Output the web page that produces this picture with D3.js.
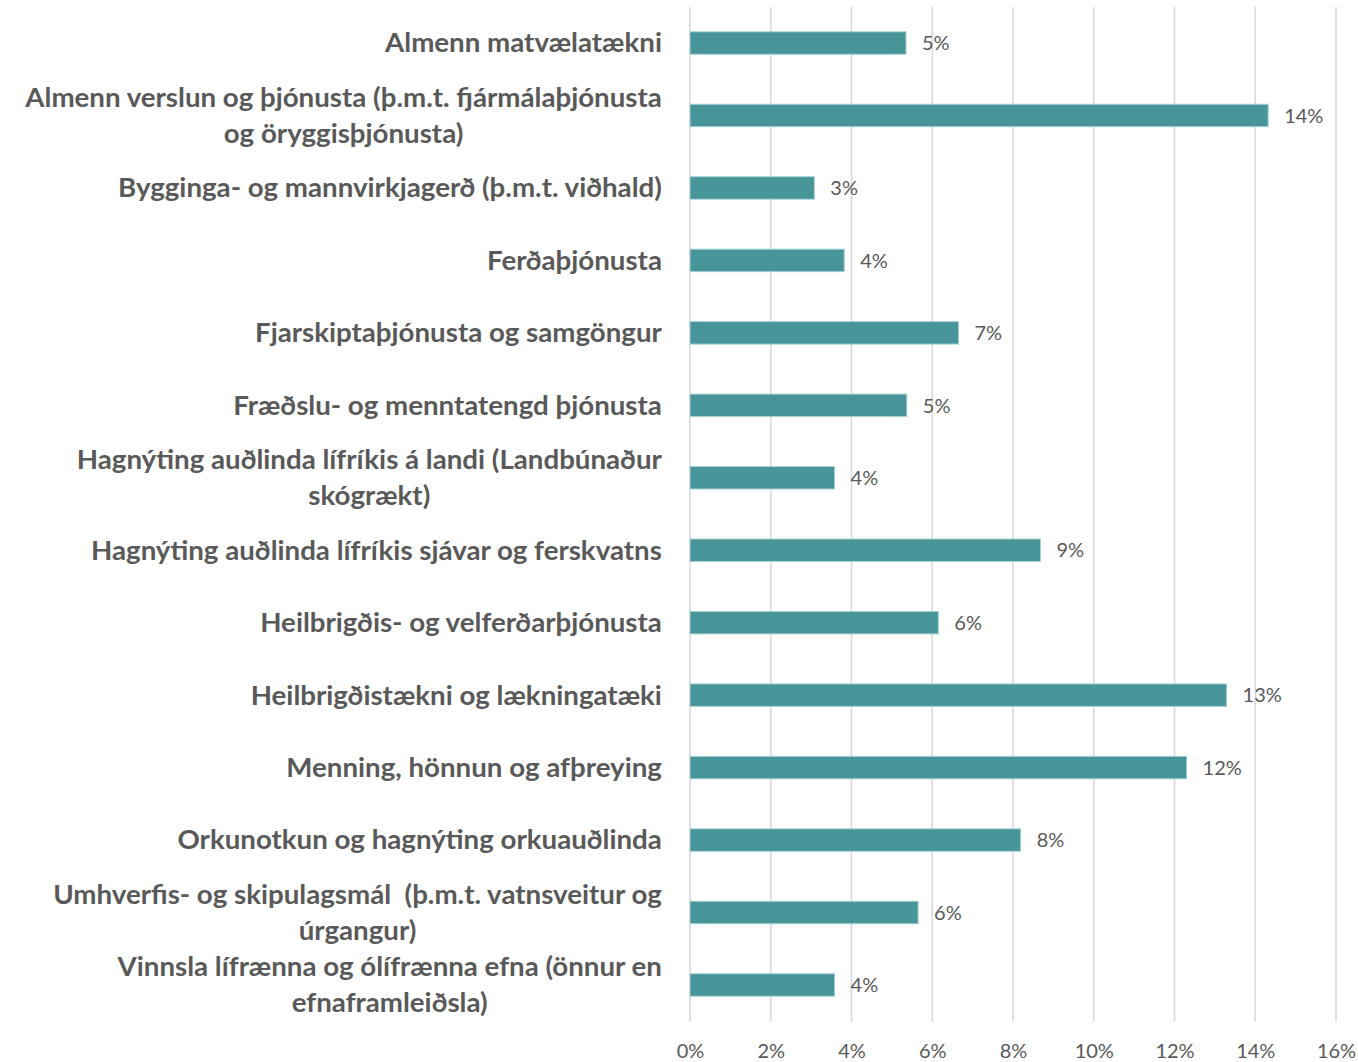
<!DOCTYPE html>
<html>
<head>
<meta charset="utf-8">
<script src="https://cdn.jsdelivr.net/npm/d3@7"></script>
<style>
  html, body { margin: 0; padding: 0; background: #fff; }
  svg { display: block; }
</style>
</head>
<body>
<svg id="chart" width="1358" height="1062"></svg>
<script>
const categories = [
  "Almenn matvælatækni",
  "Almenn verslun og þjónusta (þ.m.t. fjármálaþjónusta\nog öryggisþjónusta)",
  "Bygginga- og mannvirkjagerð (þ.m.t. viðhald)",
  "Ferðaþjónusta",
  "Fjarskiptaþjónusta og samgöngur",
  "Fræðslu- og menntatengd þjónusta",
  "Hagnýting auðlinda lífríkis á landi (Landbúnaður\nskógrækt)",
  "Hagnýting auðlinda lífríkis sjávar og ferskvatns",
  "Heilbrigðis- og velferðarþjónusta",
  "Heilbrigðistækni og lækningatæki",
  "Menning, hönnun og afþreying",
  "Orkunotkun og hagnýting orkuauðlinda",
  "Umhverfis- og skipulagsmál  (þ.m.t. vatnsveitur og\núrgangur)",
  "Vinnsla lífrænna og ólífrænna efna (önnur en\nefnaframleiðsla)"
];
const values = [5.35, 14.32, 3.08, 3.82, 6.65, 5.37, 3.58, 8.68, 6.15, 13.29, 12.30, 8.19, 5.65, 3.58];
const valueLabels = ["5%", "14%", "3%", "4%", "7%", "5%", "4%", "9%", "6%", "13%", "12%", "8%", "6%", "4%"];
const xTicks = [0, 2, 4, 6, 8, 10, 12, 14, 16];

const svg = d3.select("#chart");
const textColor = "#595959";

const x = d3.scaleLinear().domain([0, 16]).range([690, 1336]);
const y = d3.scaleBand().domain(d3.range(categories.length)).range([6.8, 1021.2]).paddingInner(0.69).paddingOuter(0.345);

// gridlines
svg.append("g").selectAll("line").data(xTicks).join("line")
  .attr("x1", d => x(d)).attr("x2", d => x(d))
  .attr("y1", 7).attr("y2", 1021.5)
  .attr("stroke", "#d9d9d9").attr("stroke-width", 1.6);

// x axis labels
const xAxis = d3.axisBottom(x).tickValues(xTicks).tickFormat(d => d + "%").tickSize(0).tickPadding(0);
const ax = svg.append("g").attr("transform", "translate(0,1051)").call(xAxis);
ax.select(".domain").remove();
ax.selectAll("text")
  .attr("dy", "0.35em")
  .attr("font-family", "Lato, 'Open Sans', sans-serif")
  .attr("font-size", 20)
  .attr("fill", textColor);

// bars
svg.append("g").selectAll("rect").data(values).join("rect")
  .attr("x", x(0))
  .attr("y", (d, i) => y(i))
  .attr("width", d => x(d) - x(0))
  .attr("height", y.bandwidth())
  .attr("fill", "#479599")
  .attr("stroke", "#a6d2d3")
  .attr("stroke-width", 1);

// value labels
svg.append("g").selectAll("text").data(values).join("text")
  .attr("x", d => x(d) + 16)
  .attr("y", (d, i) => y(i) + y.bandwidth() / 2)
  .attr("dy", "0.36em")
  .attr("font-family", "Lato, 'Open Sans', sans-serif")
  .attr("font-size", 20)
  .attr("fill", textColor)
  .text((d, i) => valueLabels[i]);

// category labels
const labelRight = 662;
const lineH = 36;
const lg = svg.append("g").selectAll("g").data(categories).join("g");
lg.each(function(d, i) {
  const g = d3.select(this);
  const lines = d.split("\n");
  const cy = y(i) + y.bandwidth() / 2;
  const texts = lines.map((t, k) => g.append("text")
    .attr("xml:space", "preserve")
    .attr("y", (k - (lines.length - 1) / 2) * lineH)
    .attr("dy", "0.36em")
    .attr("text-anchor", "middle")
    .attr("font-family", "Lato, 'Open Sans', sans-serif")
    .attr("font-weight", 700)
    .attr("font-size", 26)
    .attr("fill", textColor)
    .text(t));
  const w = d3.max(texts, t => t.node().getComputedTextLength());
  texts.forEach(t => t.attr("x", -w / 2));
  g.attr("data-cy", cy);
});
// uniform horizontal scale from reference label width
const refW = lg.filter((d, i) => i === 0).select("text").node().getComputedTextLength();
const sx = 277 / refW;
lg.attr("transform", function() {
  return `translate(${labelRight},${d3.select(this).attr("data-cy")}) scale(${sx},1)`;
});
</script>
</body>
</html>
